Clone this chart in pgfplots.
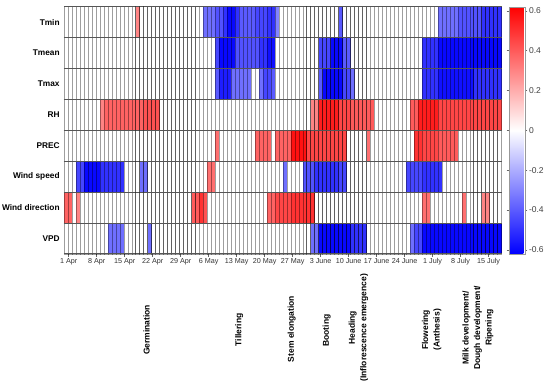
\documentclass[border=0pt]{standalone}
\usepackage{fontspec}
\setmainfont{Liberation Sans}
\usepackage{pgfplots}
\usepackage{pgfplotstable}
\pgfplotsset{compat=1.18}
\definecolor{rowline}{RGB}{85,85,85}
\pgfdeclareplotmark{cell}{%
  \pgfpathrectangle{\pgfpoint{-1.988pt}{-15.45pt}}{\pgfpoint{3.976pt}{30.9pt}}%
  \pgfusepathqfillstroke
  \pgfsetstrokeopacity{1}%
  \pgfsetstrokecolor{rowline}%
  \pgfsetlinewidth{0.8pt}%
  \pgfpathmoveto{\pgfpoint{-2.3pt}{15.45pt}}\pgfpathlineto{\pgfpoint{2.3pt}{15.45pt}}%
  \pgfpathmoveto{\pgfpoint{-2.3pt}{-15.45pt}}\pgfpathlineto{\pgfpoint{2.3pt}{-15.45pt}}%
  \pgfusepathqstroke}
\pgfplotstableread{
d Tmin Tmean Tmax RH PREC WS WD VPD
0 0 0 0 0 0 0 0.38 0
1 0 0 0 0 0 0 0.38 0
2 0 0 0 0 0 0 0 0
3 0 0 0 0 0 -0.45 0.3 0
4 0 0 0 0 0 -0.45 0 0
5 0 0 0 0 0 -0.6 0 0
6 0 0 0 0 0 -0.6 0 0
7 0 0 0 0 0 -0.6 0 0
8 0 0 0 0 0 -0.6 0 0
9 0 0 0 0.3 0 -0.5 0 0
10 0 0 0 0.38 0 -0.5 0 0
11 0 0 0 0.38 0 -0.5 0 -0.35
12 0 0 0 0.38 0 -0.5 0 -0.35
13 0 0 0 0.38 0 -0.5 0 -0.35
14 0 0 0 0.38 0 -0.5 0 -0.35
15 0 0 0 0.38 0 0 0 0
16 0 0 0 0.38 0 0 0 0
17 0 0 0 0.38 0 0 0 0
18 0.3 0 0 0.38 0 0 0 0
19 0 0 0 0.38 0 -0.35 0 0
20 0 0 0 0.42 0 -0.35 0 0
21 0 0 0 0.42 0 0 0 -0.35
22 0 0 0 0.42 0 0 0 0
23 0 0 0 0.42 0 0 0 0
24 0 0 0 0 0 0 0 0
25 0 0 0 0 0 0 0 0
26 0 0 0 0 0 0 0 0
27 0 0 0 0 0 0 0 0
28 0 0 0 0 0 0 0 0
29 0 0 0 0 0 0 0 0
30 0 0 0 0 0 0 0 0
31 0 0 0 0 0 0 0 0
32 0 0 0 0 0 0 0.4 0
33 0 0 0 0 0 0 0.4 0
34 0 0 0 0 0 0 0.5 0
35 -0.35 0 0 0 0 0 0.42 0
36 -0.35 0 0 0 0 0.35 0 0
37 -0.35 0 0 0 0 0.35 0 0
38 -0.42 -0.45 -0.4 0 0.35 0 0 0
39 -0.42 -0.6 -0.55 0 0 0 0 0
40 -0.5 -0.6 -0.55 0 0 0 0 0
41 -0.6 -0.6 -0.55 0 0 0 0 0
42 -0.6 -0.6 -0.35 0 0 0 0 0
43 -0.5 -0.42 -0.35 0 0 0 0 0
44 -0.4 -0.42 -0.35 0 0 0 0 0
45 -0.4 -0.42 -0.35 0 0 0 0 0
46 -0.4 -0.42 -0.35 0 0 0 0 0
47 -0.4 -0.42 0 0 0 0 0 0
48 -0.45 -0.42 0 0 0.38 0 0 0
49 -0.45 -0.5 -0.35 0 0.38 0 0 0
50 -0.45 -0.5 -0.45 0 0.38 0 0 0
51 -0.5 -0.58 -0.45 0 0.38 0 0.38 0
52 -0.5 -0.58 -0.4 0 0 0 0.38 0
53 -0.3 0 0 0 0.38 0 0.45 0
54 0 0 0 0 0.38 0 0.45 0
55 0 0 0 0 0.38 -0.35 0.45 0
56 0 0 0 0 0.38 0 0.45 0
57 0 0 0 0 0.58 0 0.5 0
58 0 0 0 0 0.58 0 0.5 0
59 0 0 0 0 0.58 0 0.5 0
60 0 0 0 0 0.58 -0.42 0.5 0
61 0 0 0 0 0.45 -0.42 0.5 0
62 0 0 0 0.3 0.45 -0.42 0.5 -0.35
63 0 0 0 0.3 0.45 -0.5 0 -0.35
64 0 -0.45 -0.4 0.55 0.45 -0.5 0 -0.6
65 0 -0.45 -0.6 0.55 0.45 -0.5 0 -0.6
66 0 -0.45 -0.6 0.55 0.45 -0.5 0 -0.6
67 0 -0.6 -0.6 0.55 0.45 -0.5 0 -0.6
68 0 -0.6 -0.6 0.55 0.45 -0.5 0 -0.6
69 -0.4 -0.6 -0.6 0.45 0.45 -0.45 0 -0.6
70 0 -0.4 -0.45 0.45 0.45 -0.45 0 -0.6
71 0 -0.4 -0.45 0.45 0 0 0 -0.6
72 0 0 -0.35 0.4 0 0 0 -0.5
73 0 0 0 0.4 0 0 0 -0.5
74 0 0 0 0.4 0 0 0 -0.5
75 0 0 0 0.4 0 0 0 -0.5
76 0 0 0 0.4 0.35 0 0 0
77 0 0 0 0.4 0 0 0 0
78 0 0 0 0 0 0 0 0
79 0 0 0 0 0 0 0 0
80 0 0 0 0 0 0 0 0
81 0 0 0 0 0 0 0 0
82 0 0 0 0 0 0 0 0
83 0 0 0 0 0 0 0 0
84 0 0 0 0 0 0 0 0
85 0 0 0 0 0 0 0 0
86 0 0 0 0 0 -0.45 0 0
87 0 0 0 0.4 0 -0.45 0 -0.35
88 0 0 0 0.4 0.5 -0.45 0 -0.45
89 0 0 0 0.55 0.5 -0.45 0 -0.45
90 0 -0.5 -0.5 0.55 0.45 -0.5 0.35 -0.6
91 0 -0.5 -0.5 0.55 0.45 -0.5 0.35 -0.6
92 0 -0.5 -0.5 0.55 0.45 -0.5 0 -0.6
93 0 -0.5 -0.5 0.55 0.45 -0.5 0 -0.6
94 -0.35 -0.6 -0.58 0.45 0.4 -0.5 0 -0.6
95 -0.35 -0.6 -0.58 0.45 0.4 0 0 -0.6
96 -0.35 -0.6 -0.58 0.45 0.4 0 0 -0.6
97 -0.35 -0.6 -0.58 0.45 0.4 0 0 -0.6
98 -0.35 -0.6 -0.58 0.45 0.4 0 0 -0.6
99 -0.42 -0.6 -0.58 0.45 0 0 0 -0.6
100 -0.42 -0.6 -0.58 0.45 0 0 0.35 -0.6
101 -0.42 -0.6 -0.58 0.45 0 0 0 -0.6
102 -0.42 -0.6 -0.58 0.45 0 0 0 -0.6
103 -0.42 -0.6 -0.5 0.45 0 0 0 -0.6
104 -0.42 -0.6 -0.5 0.45 0 0 0 -0.6
105 -0.5 -0.6 -0.5 0.45 0 0 0.3 -0.6
106 -0.5 -0.6 -0.5 0.45 0 0 0.3 -0.6
107 -0.5 -0.6 -0.5 0.45 0 0 0 -0.6
108 -0.5 -0.6 -0.5 0.45 0 0 0 -0.6
109 -0.5 -0.6 -0.5 0.45 0 0 0 -0.6
}\data
\pgfplotsset{cellplot/.style={scatter, only marks, mark=cell, scatter src=explicit,
  mark options={line width=0.75pt},
  scatter/use mapped color={draw=black, draw opacity=0.38, fill=mapped color}}}
\begin{document}
\begin{tikzpicture}
\begin{axis}[
  at={(0pt,0pt)}, anchor=south west,
  scale only axis, width=437.4pt, height=247.2pt,
  xmin=-0.5, xmax=109.5, ymin=-0.5, ymax=7.5,
  clip=false,
  colormap={bwr}{rgb255=(0,0,255) rgb255=(255,255,255) rgb255=(255,0,0)},
  point meta min=-0.62, point meta max=0.62,
  xtick={0.6,7.64,14.68,21.72,28.76,35.8,42.84,49.88,56.92,63.96,71.0,78.04,85.08,92.12,99.16,106.2},
  xticklabels={1 Apr,8 Apr,15 Apr,22 Apr,29 Apr,6 May,13 May,20 May,27 May,3 June,10 June,17 June,24 June,1 July,8 July,15 July},
  ytick={0,1,2,3,4,5,6,7},
  yticklabels={VPD,Wind direction,Wind speed,PREC,RH,Tmax,Tmean,Tmin},
  major tick length=3pt,
  tick align=outside,
  xtick pos=bottom,
  ytick style={draw=none},
  xtick style={draw=black!60, line width=0.5pt},
  axis line style={draw=rowline, line width=0.8pt},
  xticklabel style={font=\fontsize{7.2}{8}\selectfont, text=black!80, inner sep=1.5pt},
  yticklabel style={font=\bfseries\fontsize{8.3}{10}\selectfont, inner sep=1.5pt},
  colorbar,
  colorbar style={
    at={(parent axis.north east)}, anchor=north west, xshift=-1.1pt,
    scale only axis, width=15.7pt, height=247.2pt,
    ytick={-0.6,-0.4,-0.2,0,0.2,0.4,0.6},
    yticklabels={-0.6,-0.4,-0.2,0,0.2,0.4,0.6},
    yticklabel pos=right,
    yticklabel style={font=\fontsize{8.5}{10}\selectfont, text=black!75, inner sep=1.5pt},
    major tick length=2.5pt, tick align=outside,
    ytick style={draw=black!60},
    axis line style={draw=black!40},
  },
]
\addplot[cellplot] table[x=d, y expr=7, meta=Tmin] {\data};
\addplot[cellplot] table[x=d, y expr=6, meta=Tmean] {\data};
\addplot[cellplot] table[x=d, y expr=5, meta=Tmax] {\data};
\addplot[cellplot] table[x=d, y expr=4, meta=RH] {\data};
\addplot[cellplot] table[x=d, y expr=3, meta=PREC] {\data};
\addplot[cellplot] table[x=d, y expr=2, meta=WS] {\data};
\addplot[cellplot] table[x=d, y expr=1, meta=WD] {\data};
\addplot[cellplot] table[x=d, y expr=0, meta=VPD] {\data};
\begin{scope}[every node/.style={rotate=90, align=center, font=\bfseries\fontsize{8.5}{11.5}\selectfont}]
\node at (axis cs:20.2,-2.96) {Germination};
\node at (axis cs:43.5,-2.96) {Tillering};
\node at (axis cs:56.7,-2.93) {Stem elongation};
\node at (axis cs:65.5,-2.98) {Booting};
\node at (axis cs:73.5,-2.89) {Heading\\(Inflorescence emergence)};
\node at (axis cs:91.9,-2.96) {Flowering\\(Anthesis)};
\node at (axis cs:103.5,-2.89) {Milk development/\\Dough development/\\Ripening};
\end{scope}
\end{axis}
\pgfresetboundingbox
\path[use as bounding box] (-64.3pt,-134pt) rectangle (485.7pt,253.9pt);
\end{tikzpicture}
\end{document}
